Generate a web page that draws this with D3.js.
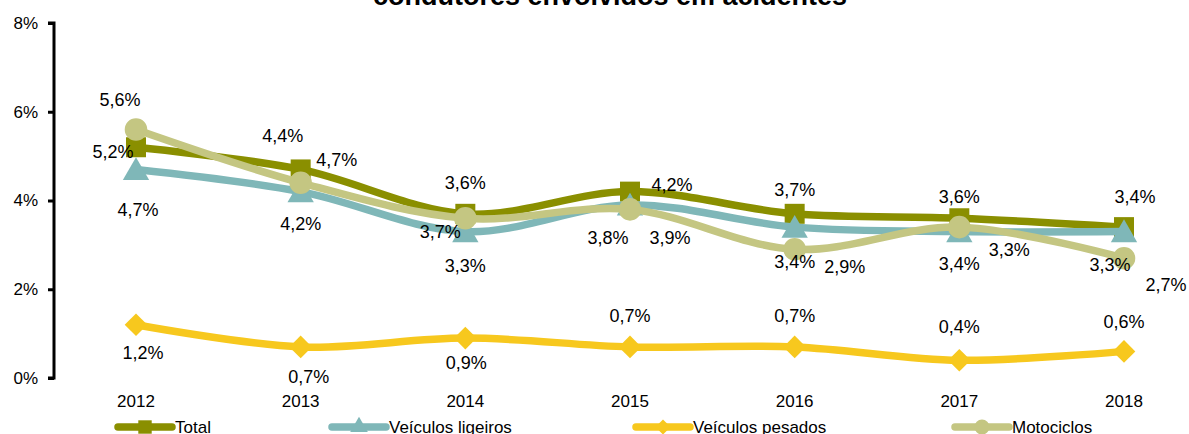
<!DOCTYPE html>
<html>
<head>
<meta charset="utf-8">
<script src="https://cdn.jsdelivr.net/npm/d3@7"></script>
<style>
  body { margin: 0; background: #fff; }
  text { font-family: "Liberation Sans", Arial, sans-serif; fill: #000; }
</style>
</head>
<body>
<div id="container"></div>
<script>
const years = ['2012', '2013', '2014', '2015', '2016', '2017', '2018'];
const yTicks = [0, 2, 4, 6, 8];
const seriesNames = ['Total', 'Veículos ligeiros', 'Veículos pesados', 'Motociclos'];
const total = [5.2, 4.7, 3.7, 4.2, 3.7, 3.6, 3.4];
const ligeiros = [4.7, 4.2, 3.3, 3.9, 3.4, 3.3, 3.3];
const pesados = [1.2, 0.7, 0.9, 0.7, 0.7, 0.4, 0.6];
const motociclos = [5.6, 4.4, 3.6, 3.8, 2.9, 3.4, 2.7];

// label placement (Excel labels were nudged by hand)
const labelOffsets = [
  [[-23, 5], [36, -9], [-25, 18], [42, -7], [0, -24], [0, -21], [11, -30]],
  [[2, 41], [0, 32], [0, 34], [40, 33], [0, 35], [50, 18], [-14, 33]],
  [[7, 28], [8, 30], [1, 25], [0, -31], [0, -31], [0, -33], [0, -29]],
  [[-16, -30], [-18, -47], [0, -35], [-22, 29], [50, 18], [0, 37], [42, 27]]
];

const colors = ['#8a8f00', '#7fb7b8', '#f7c81e', '#c4c682'];
const symbols = [d3.symbolSquare, d3.symbolTriangle, d3.symbolSquare, d3.symbolCircle];
const symSizes = [400, 300, 256, 400];
const symRotate = [0, 0, 45, 0];

const w = 1189;
const h = 434;

const svg = d3.select('#container').append('svg')
  .attr('width', w)
  .attr('height', h);

const x = d3.scalePoint().domain(years).range([136, 1124]);
const y = d3.scaleLinear().domain([0, 8]).range([378, 23]);

svg.append('text')
  .attr('x', 610)
  .attr('y', 5)
  .attr('text-anchor', 'middle')
  .style('font-size', '27px')
  .style('font-weight', 'bold')
  .text('condutores envolvidos em acidentes');

// y axis
const yAxis = svg.append('g')
  .attr('transform', 'translate(54,0)')
  .call(d3.axisLeft(y).tickValues(yTicks).tickSize(6).tickPadding(10).tickFormat(d => d + '%'));
yAxis.select('.domain').attr('stroke', '#000').attr('stroke-width', 3).attr('d', `M-6,${y(8)}H0V${y(0)}H-6`);
yAxis.selectAll('.tick line').attr('stroke', '#000').attr('stroke-width', 3);
yAxis.selectAll('.tick text').style('font-size', '17px').style('font-family', '"Liberation Sans", Arial, sans-serif');

// x labels
svg.append('g').selectAll('text')
  .data(years)
  .join('text')
  .attr('x', d => x(d))
  .attr('y', 407)
  .attr('text-anchor', 'middle')
  .style('font-size', '17px')
  .text(d => d);

const series = [total, ligeiros, pesados, motociclos];

const line = d3.line()
  .x((d, i) => x(years[i]))
  .y(d => y(d))
  .curve(d3.curveCardinal.tension(0));

series.forEach((vals, s) => {
  const g = svg.append('g');
  g.append('path')
    .datum(vals)
    .attr('fill', 'none')
    .attr('stroke', colors[s])
    .attr('stroke-width', 7.5)
    .attr('d', line);
  g.selectAll('path.mk')
    .data(vals)
    .join('path')
    .attr('class', 'mk')
    .attr('fill', colors[s])
    .attr('transform', (d, i) => `translate(${x(years[i])},${y(d) + (s === 1 ? 3 : 0)}) rotate(${symRotate[s]})`)
    .attr('d', d3.symbol().type(symbols[s]).size(symSizes[s]));
});

// data labels on top
series.forEach((vals, s) => {
  svg.append('g').selectAll('text')
    .data(vals)
    .join('text')
    .attr('x', (d, i) => x(years[i]) + labelOffsets[s][i][0])
    .attr('y', (d, i) => y(d) + labelOffsets[s][i][1])
    .attr('text-anchor', 'middle')
    .attr('dominant-baseline', 'central')
    .style('font-size', '18px')
    .text(d => d.toFixed(1).replace('.', ',') + '%');
});

// legend
const legendX = [118, 332, 636, 955];
const leg = svg.append('g');
seriesNames.forEach((name, s) => {
  const lg = leg.append('g').attr('transform', `translate(${legendX[s]},427)`);
  lg.append('line')
    .attr('x1', 0).attr('x2', 54)
    .attr('stroke', colors[s])
    .attr('stroke-width', 7.5)
    .attr('stroke-linecap', 'round');
  lg.append('path')
    .attr('transform', `translate(27,0) rotate(${symRotate[s]})`)
    .attr('fill', colors[s])
    .attr('d', d3.symbol().type(symbols[s]).size(symSizes[s] * 0.45));
  lg.append('text')
    .attr('x', 57)
    .attr('y', 6)
    .style('font-size', '17px')
    .text(name);
});
</script>
</body>
</html>
